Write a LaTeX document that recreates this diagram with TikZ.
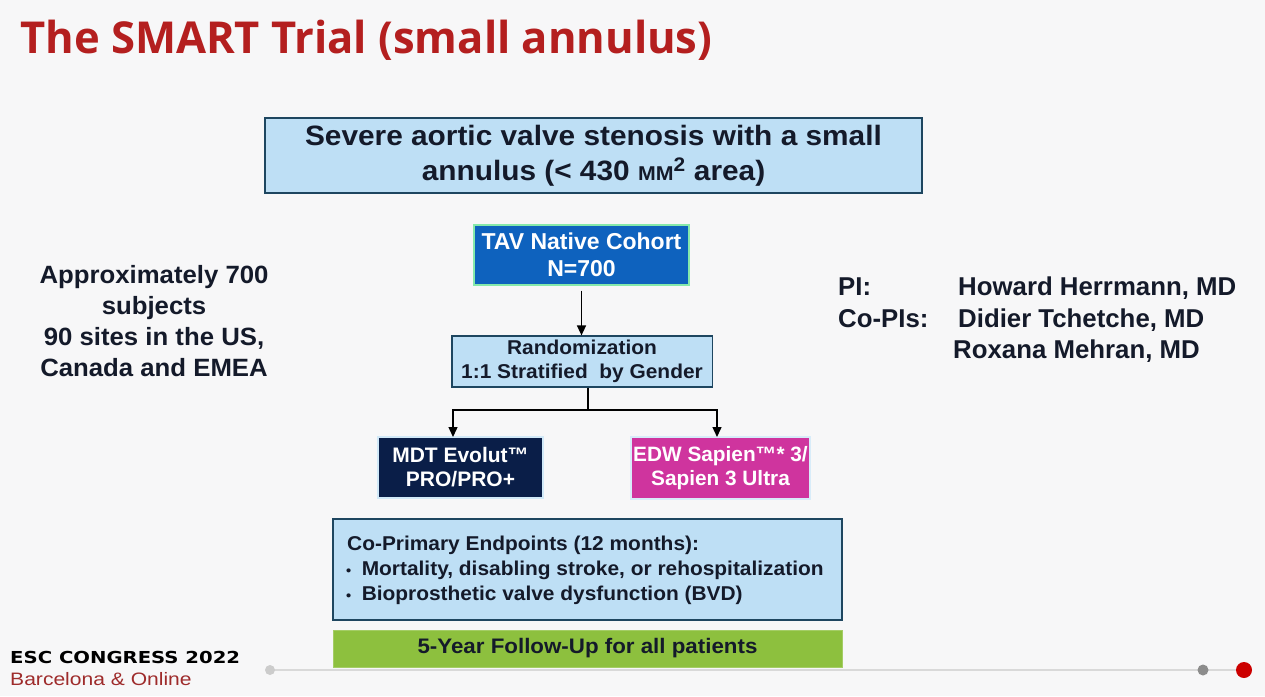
\documentclass[tikz,border=0pt]{standalone}
\usepackage{fontspec}
\setmainfont{Liberation Sans}
\newfontfamily\titlefont{Open Sans}
\newfontfamily\escfont{DejaVu Sans}
\usetikzlibrary{arrows.meta}
\definecolor{bg}{HTML}{F7F7F8}
\definecolor{lblue}{HTML}{BEDFF5}
\definecolor{dborder}{HTML}{1E4660}
\definecolor{tavblue}{HTML}{0E62BE}
\definecolor{navy}{HTML}{0A1E48}
\definecolor{magenta}{HTML}{CF349E}
\definecolor{lgreen}{HTML}{8DC03E}
\definecolor{titlered}{HTML}{B41F1F}
\definecolor{txt}{HTML}{141A2A}
\definecolor{escred}{HTML}{9E2B2B}
\tikzset{
  x=1pt,y=-1pt,
  box/.style={draw=dborder, line width=1.2pt, fill=lblue, text=txt, font=\bfseries, align=center, inner sep=0pt},
  darkbox/.style={draw=#1, line width=1.2pt, text=white, font=\bfseries, align=center, inner sep=0pt},
  arr/.style={-{Triangle[length=10pt,width=9pt]}, line width=1.4pt, draw=black},
  plain/.style={text=txt, font=\bfseries, inner sep=0pt},
}
\begin{document}
\begin{tikzpicture}
\fill[bg] (0,0) rectangle (1265,696);
\useasboundingbox (0,0) rectangle (1265,696);
% title
\node[anchor=base west, inner sep=0pt, xscale=0.99, text=titlered, font=\titlefont\bfseries\fontsize{44}{50}\selectfont] (title) at (20,53) {The SMART Trial (small annulus)};
% top box
\node[box, xscale=1.065, minimum width=617, minimum height=75, font=\bfseries\fontsize{28}{35}\selectfont] (top) at (593.5,155.5) {Severe aortic valve stenosis with a small\\annulus (< 430 {\fontsize{20}{20}\selectfont MM}\textsuperscript{2} area)};
% TAV
\node[darkbox=green!30!lblue, fill=tavblue, minimum width=215, minimum height=60, font=\bfseries\fontsize{23}{27}\selectfont] (tav) at (581.5,255) {TAV Native Cohort\\N=700};
% Randomization
\node[box, xscale=1.045, minimum width=249, minimum height=51, font=\bfseries\fontsize{20}{24}\selectfont] (rand) at (582,361.5) {Randomization\\1:1 Stratified\ \ by Gender};
% arms
\node[darkbox=lblue!70!white, fill=navy, minimum width=165, minimum height=61, font=\bfseries\fontsize{21}{24}\selectfont] (mdt) at (460.5,467.5) {MDT Evolut™\\PRO/PRO+};
\node[darkbox=lblue!60!white, fill=magenta, minimum width=179, minimum height=62, font=\bfseries\fontsize{20.8}{24}\selectfont] (edw) at (720.5,468) {EDW Sapien™* 3/\\Sapien 3 Ultra};
% endpoints
\node[box, minimum width=509, minimum height=101] (ep) at (587.5,569.5) {};
\node[anchor=base west, plain, xscale=1.045, font=\bfseries\fontsize{20}{25}\selectfont] (ep1) at (347,550) {Co-Primary Endpoints (12 months):};
\node[anchor=base west, plain, xscale=1.045, font=\bfseries\fontsize{20}{25}\selectfont] (ep2) at (346,575) {{\fontsize{14}{14}\selectfont •}\hspace{10pt}Mortality, disabling stroke, or rehospitalization};
\node[anchor=base west, plain, xscale=1.045, font=\bfseries\fontsize{20}{25}\selectfont] (ep3) at (346,600) {{\fontsize{14}{14}\selectfont •}\hspace{10pt}Bioprosthetic valve dysfunction (BVD)};
% follow-up
\node[draw=lgreen!80!white, fill=lgreen, xscale=1.063, minimum width=479, minimum height=37, inner sep=0pt, text=txt, font=\bfseries\fontsize{21}{22}\selectfont] (fu) at (587.5,648.5) {5-Year Follow-Up for all patients};
% connectors
\draw[arr] (tav.south) ++(0,5) coordinate (a1) -- (rand.north -| a1);
\coordinate (split) at (588,410);
\draw[line width=1.4pt] (rand.south -| split) -- (split);
\draw[arr] (split) -| (453,437) coordinate (mdtin);
\draw[arr] (split) -| (717,437) coordinate (edwin);
% left text
\node[plain, align=center, xscale=1.03, font=\bfseries\fontsize{25}{31}\selectfont] (left) at (154,321) {Approximately 700\\subjects\\90 sites in the US,\\Canada and EMEA};
% right text
\node[plain, anchor=base west, font=\bfseries\fontsize{25.8}{32}\selectfont] (pi) at (838,295) {PI:};
\node[plain, anchor=base west, font=\bfseries\fontsize{25.8}{32}\selectfont] (copi) at (838,327) {Co-PIs:};
\node[plain, anchor=base west, font=\bfseries\fontsize{25.8}{32}\selectfont] (n1) at (958,295) {Howard Herrmann, MD};
\node[plain, anchor=base west, font=\bfseries\fontsize{25.8}{32}\selectfont] (n2) at (958,327) {Didier Tchetche, MD};
\node[plain, anchor=base west, font=\bfseries\fontsize{25.8}{32}\selectfont] (n3) at (953,358) {Roxana Mehran, MD};
% footer
\draw[black!15, line width=1.2pt] (270,670) -- (1244,670);
\fill[black!20] (270,670) circle (5);
\fill[black!45] (1203,670) circle (5.5);
\fill[red!80!black] (1244,670) circle (8);
\node[anchor=base west, inner sep=0pt, font=\escfont\bfseries\fontsize{16.5}{20}\selectfont, text=black, xscale=1.19] (esc) at (10,663) {ESC CONGRESS 2022};
\node[anchor=base west, inner sep=0pt, font=\fontsize{18}{20}\selectfont, text=escred, xscale=1.17] (bar) at (10,685) {Barcelona \& Online};
\end{tikzpicture}
\end{document}
